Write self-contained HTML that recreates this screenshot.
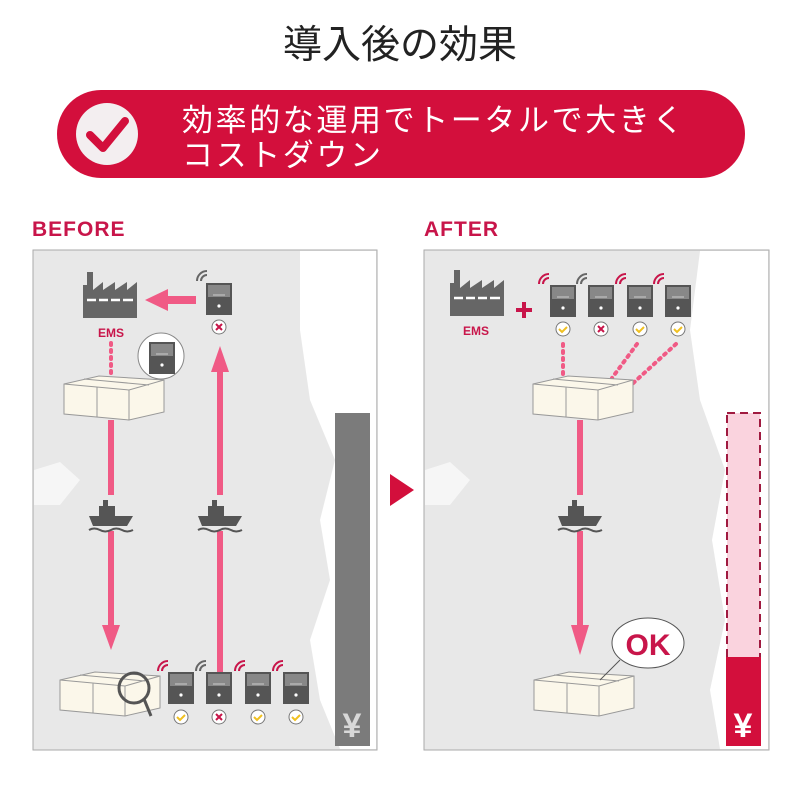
<!DOCTYPE html>
<html><head><meta charset="utf-8"><style>
html,body{margin:0;padding:0;background:#fff;}
svg{display:block;}
text{font-family:"Liberation Sans","Noto Sans CJK JP",sans-serif;}
</style></head><body>
<svg width="800" height="800" viewBox="0 0 800 800" xmlns="http://www.w3.org/2000/svg">
<defs>
 <g id="dev">
  <rect x="0" y="0" width="26" height="32" fill="#555"/>
  <rect x="2" y="2" width="22" height="12" fill="#888"/>
  <line x1="7" y1="12" x2="19" y2="12" stroke="#ccc" stroke-width="1"/>
  <circle cx="13" cy="23" r="1.6" fill="#fff"/>
 </g>
 <g id="wifiR"><path d="M-2 -4 a6 6 0 0 1 6 -6 M-6 -4 a10 10 0 0 1 10 -10" fill="none" stroke="#c8154a" stroke-width="2"/></g>
 <g id="wifiG"><path d="M-2 -4 a6 6 0 0 1 6 -6 M-6 -4 a10 10 0 0 1 10 -10" fill="none" stroke="#666" stroke-width="2"/></g>
 <g id="ok"><circle r="7" fill="#fff" stroke="#777" stroke-width="1"/><path d="M-4 0 l3 3 l5 -5" fill="none" stroke="#f0c020" stroke-width="2"/></g>
 <g id="ng"><circle r="7" fill="#fff" stroke="#777" stroke-width="1"/><path d="M-3 -3 l6 6 M3 -3 l-6 6" stroke="#c8154a" stroke-width="2"/></g>
 <g id="box">
  <path d="M0 8 L35 0 L100 4 L100 36 L65 44 L0 38 Z" fill="#fbf7ea" stroke="#999" stroke-width="1"/>
  <path d="M0 8 L65 14 L100 4 M65 14 L65 44 M33 11 L33 41 M20 3 L85 9" fill="none" stroke="#999" stroke-width="1"/>
 </g>
 <g id="factory">
  <path d="M0 48 L0 15 L4 15 L4 2 L10 2 L10 20 L20 12 L20 20 L32 12 L32 20 L44 12 L44 20 L54 12 L54 48 Z" fill="#666"/>
  <path d="M4 30 h9 M16 30 h9 M28 30 h9 M40 30 h10" stroke="#fff" stroke-width="2.5"/>
 </g>
 <g id="ship">
  <path d="M-22 4 L22 4 L16 14 L-18 14 Z" fill="#555"/>
  <rect x="-12" y="-6" width="16" height="10" fill="#555"/>
  <rect x="-8" y="-12" width="5" height="7" fill="#555"/>
  <path d="M-22 18 q5 -3 11 0 q5 3 11 0 q5 -3 11 0 q5 3 11 0" fill="none" stroke="#555" stroke-width="2"/>
 </g>
</defs>

<text x="400" y="58" text-anchor="middle" font-size="39" fill="#222">導入後の効果</text>

<rect x="57" y="90" width="688" height="88" rx="44" fill="#d30f3c"/>
<circle cx="107" cy="134" r="31" fill="#f3eef0"/>
<path d="M90 135 L103 148 L125 121" fill="none" stroke="#d30f3c" stroke-width="8" stroke-linecap="round" stroke-linejoin="round"/>
<text x="182" y="131" font-size="31" letter-spacing="2.6" fill="#fff">効率的な運用でトータルで大きく</text>
<text x="182" y="166" font-size="31" letter-spacing="2.6" fill="#fff">コストダウン</text>

<text x="32" y="236" font-size="21" font-weight="bold" fill="#c8154a" letter-spacing="1">BEFORE</text>
<text x="424" y="236" font-size="21" font-weight="bold" fill="#c8154a" letter-spacing="1">AFTER</text>

<!-- panels -->
<rect x="33" y="250" width="344" height="500" fill="#e8e8e8" stroke="#aaa" stroke-width="1"/>
<path d="M300 251 L376 251 L376 749 L340 749 L320 700 L310 640 L330 580 L320 520 L335 460 L310 400 L300 330 Z" fill="#fff"/>
<path d="M34 470 L60 462 L80 480 L60 505 L34 505 Z" fill="#f6f6f6"/>
<rect x="424" y="250" width="345" height="500" fill="#e8e8e8" stroke="#aaa" stroke-width="1"/>
<path d="M700 251 L768 251 L768 749 L720 749 L710 690 L725 620 L712 540 L725 470 L700 400 L690 330 Z" fill="#fff"/>
<path d="M425 470 L450 462 L470 480 L450 505 L425 505 Z" fill="#f6f6f6"/>

<polygon points="390,474 414,490 390,506" fill="#d30f3c"/>

<!-- BEFORE -->
<use href="#factory" x="83" y="270"/>
<text x="111" y="337" text-anchor="middle" font-size="12" font-weight="bold" fill="#c8154a">EMS</text>
<rect x="168" y="296" width="28" height="8" fill="#f05a85"/>
<polygon points="145,300 168,289 168,311" fill="#f05a85"/>
<use href="#dev" x="206" y="283"/>
<use href="#wifiG" x="203" y="285"/>
<use href="#ng" x="219" y="327"/>
<line x1="111" y1="343" x2="111" y2="375" stroke="#f05a85" stroke-width="4" stroke-dasharray="2 5" stroke-linecap="round"/>
<circle cx="161" cy="356" r="23" fill="#fff" stroke="#888"/>
<use href="#dev" x="149" y="342"/>
<use href="#box" x="64" y="376"/>
<rect x="108" y="420" width="6" height="205" fill="#f05a85"/>
<polygon points="102,625 120,625 111,650" fill="#f05a85"/>
<rect x="217" y="372" width="6" height="300" fill="#f05a85"/>
<polygon points="211,372 229,372 220,346" fill="#f05a85"/>
<rect x="95" y="495" width="32" height="36" fill="#e8e8e8"/>
<rect x="204" y="495" width="32" height="36" fill="#e8e8e8"/>
<use href="#ship" x="111" y="512"/>
<use href="#ship" x="220" y="512"/>
<rect x="335" y="413" width="35" height="333" fill="#7b7b7b"/>
<text x="352" y="737" text-anchor="middle" font-size="34" font-weight="bold" fill="#d8d8d8">¥</text>
<use href="#box" x="60" y="672"/>
<circle cx="134" cy="688" r="15" fill="none" stroke="#555" stroke-width="3"/>
<line x1="144" y1="699" x2="151" y2="716" stroke="#555" stroke-width="3"/>
<use href="#dev" x="168" y="672"/><use href="#wifiR" x="164" y="675"/><use href="#ok" x="181" y="717"/>
<use href="#dev" x="206" y="672"/><use href="#wifiG" x="202" y="675"/><use href="#ng" x="219" y="717"/>
<use href="#dev" x="245" y="672"/><use href="#wifiR" x="241" y="675"/><use href="#ok" x="258" y="717"/>
<use href="#dev" x="283" y="672"/><use href="#wifiR" x="279" y="675"/><use href="#ok" x="296" y="717"/>

<!-- AFTER -->
<use href="#factory" x="450" y="268"/>
<text x="476" y="335" text-anchor="middle" font-size="12" font-weight="bold" fill="#c8154a">EMS</text>
<path d="M524 302 v16 M516 310 h16" stroke="#c8154a" stroke-width="4"/>
<use href="#dev" x="550" y="285"/><use href="#wifiR" x="545" y="288"/><use href="#ok" x="563" y="329"/>
<use href="#dev" x="588" y="285"/><use href="#wifiG" x="583" y="288"/><use href="#ng" x="601" y="329"/>
<use href="#dev" x="627" y="285"/><use href="#wifiR" x="622" y="288"/><use href="#ok" x="640" y="329"/>
<use href="#dev" x="665" y="285"/><use href="#wifiR" x="660" y="288"/><use href="#ok" x="678" y="329"/>
<path d="M563 344 L563 378 M637 344 L612 378 M676 344 L630 386" stroke="#f05a85" stroke-width="4" stroke-dasharray="2 5" stroke-linecap="round" fill="none"/>
<use href="#box" x="533" y="376"/>
<rect x="577" y="420" width="6" height="205" fill="#f05a85"/>
<polygon points="571,625 589,625 580,655" fill="#f05a85"/>
<rect x="564" y="495" width="32" height="36" fill="#e8e8e8"/>
<use href="#ship" x="580" y="512"/>
<use href="#box" x="534" y="672"/>
<path d="M600 680 L620 660" stroke="#555" stroke-width="1"/>
<ellipse cx="648" cy="643" rx="36" ry="25" fill="#fff" stroke="#555" stroke-width="1"/>
<text x="648" y="655" text-anchor="middle" font-size="30" font-weight="bold" fill="#c8154a">OK</text>
<rect x="727" y="413" width="33" height="245" fill="#fad3de" stroke="#a01a40" stroke-width="2" stroke-dasharray="8 5"/>
<rect x="726" y="657" width="35" height="89" fill="#d30f3c"/>
<text x="743" y="737" text-anchor="middle" font-size="34" font-weight="bold" fill="#fff">¥</text>
</svg>
</body></html>
